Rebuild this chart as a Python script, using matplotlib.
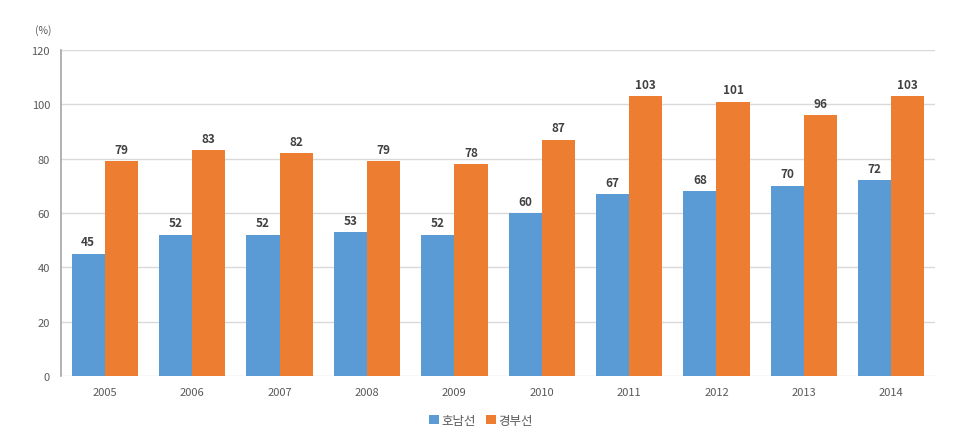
import matplotlib
matplotlib.use("Agg")
import matplotlib.pyplot as plt
import numpy as np

plt.rcParams['font.family'] = ['Noto Sans CJK KR', 'DejaVu Sans']

years = ['2005', '2006', '2007', '2008', '2009', '2010', '2011', '2012', '2013', '2014']
honam = [45, 52, 52, 53, 52, 60, 67, 68, 70, 72]
gyeongbu = [79, 83, 82, 79, 78, 87, 103, 101, 96, 103]
series_names = ['호남선', '경부선']
yticks = [0, 20, 40, 60, 80, 100, 120]

fig = plt.figure(figsize=(9.55, 4.39), dpi=100)
ax = fig.add_axes([0.064, 0.141, 0.915, 0.743])

x = np.arange(len(years))
w = 0.38
b1 = ax.bar(x - w/2, honam, w, color='#5B9BD5', label=series_names[0], zorder=3)
b2 = ax.bar(x + w/2, gyeongbu, w, color='#ED7D31', label=series_names[1], zorder=3)

for bars, vals in ((b1, honam), (b2, gyeongbu)):
    for r, v in zip(bars, vals):
        ax.text(r.get_x() + r.get_width()/2, v + 2, str(v), ha='center', va='bottom',
                fontsize=8.5, fontweight='bold', color='#404040')

ax.set_xlim(-0.5, len(years) - 0.5)
ax.set_ylim(0, 120)
ax.set_yticks(yticks)
ax.set_xticks(x)
ax.set_xticklabels(years)
ax.tick_params(axis='both', length=0, labelsize=8, colors='#595959', pad=8)
ax.grid(axis='y', color='#D9D9D9', linewidth=1, zorder=0)
for s in ['top', 'right', 'bottom']:
    ax.spines[s].set_visible(False)
ax.spines['left'].set_color('#A6A6A6')
ax.spines['left'].set_linewidth(1.2)

fig.text(0.045, 0.93, '(%)', fontsize=7.5, color='#595959', ha='center', va='center')

ax.legend(loc='center', bbox_to_anchor=(0.48, -0.135), ncol=2, frameon=False,
          fontsize=9, handlelength=0.8, handleheight=0.8, handletextpad=0.2,
          columnspacing=0.8, labelcolor='#595959')

fig.savefig('out.png', dpi=100)
